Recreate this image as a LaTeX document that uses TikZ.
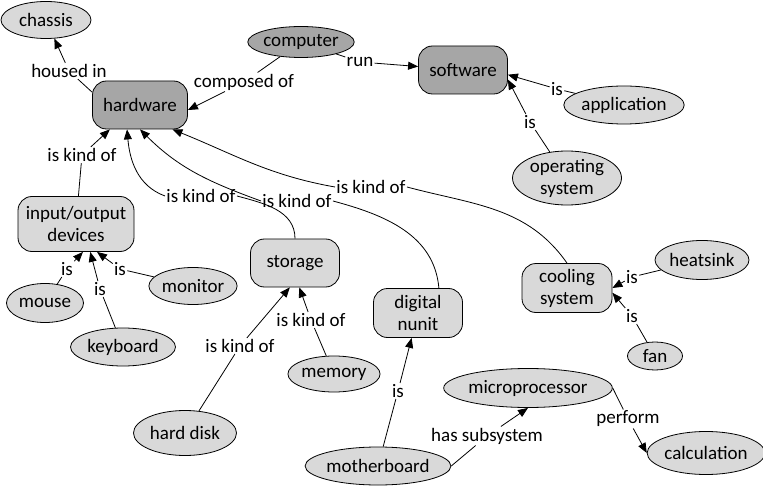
\documentclass[tikz,border=0pt]{standalone}
\usepackage{fontspec}
\setmainfont{Carlito}
\usepackage{tikz}
\usetikzlibrary{shapes.geometric,arrows.meta}
\definecolor{darkfill}{HTML}{A6A6A6}
\definecolor{lightfill}{HTML}{D9D9D9}

\begin{document}
\begin{tikzpicture}[x=1pt, y=1pt, font=\fontsize{19}{22}\selectfont, line width=0.8pt,
        oval/.style={shape=ellipse, draw, fill=lightfill, inner sep=0pt, align=center},
        box/.style={shape=rectangle, rounded corners=14pt, draw, fill=lightfill, inner sep=0pt, align=center},
        lab/.style={inner sep=1pt},
        arr/.style={-{Triangle[length=10pt,width=8pt]}}]
        \useasboundingbox (0,0) rectangle (763,-489);
        % concepts
        \node[oval, minimum width=90pt, minimum height=37pt] (chassis) at (46, -20) {chassis};
        \node[oval, fill=darkfill, minimum width=103pt, minimum height=31pt] (computer) at (301, -42) {computer};
        \node[box, fill=darkfill, minimum width=95pt, minimum height=48pt] (hardware) at (140, -105) {hardware};
        \node[box, fill=darkfill, minimum width=89pt, minimum height=48pt] (software) at (463, -70) {software};
        \node[oval, minimum width=120pt, minimum height=38pt] (application) at (624, -105) {application};
        \node[oval, minimum width=109pt, minimum height=53pt] (opsys) at (567, -178) {operating\\system};
        \node[box, minimum width=116pt, minimum height=55pt] (iodev) at (76, -224) {input/output\\devices};
        \node[box, minimum width=89pt, minimum height=48pt] (storage) at (295, -263) {storage};
        \node[oval, minimum width=77pt, minimum height=39pt] (mouse) at (45, -303) {mouse};
        \node[oval, minimum width=87pt, minimum height=37pt] (monitor) at (193, -286) {monitor};
        \node[oval, minimum width=105pt, minimum height=38pt] (keyboard) at (123, -347) {keyboard};
        \node[oval, minimum width=92pt, minimum height=36pt] (memory) at (334, -374) {memory};
        \node[oval, minimum width=103pt, minimum height=45pt] (harddisk) at (185, -433) {hard disk};
        \node[box, minimum width=89pt, minimum height=49pt] (digital) at (418, -313) {digital\\nunit};
        \node[box, minimum width=90pt, minimum height=49pt] (cooling) at (567, -288) {cooling\\system};
        \node[oval, minimum width=94pt, minimum height=39pt] (heatsink) at (702, -260) {heatsink};
        \node[oval, minimum width=55pt, minimum height=28pt] (fan) at (655, -356) {fan};
        \node[oval, minimum width=159pt, minimum height=39pt] (micro) at (528, -388) {microprocessor};
        \node[oval, minimum width=113pt, minimum height=43pt] (calc) at (706, -453) {calculation};
        \node[oval, minimum width=133pt, minimum height=38pt] (mobo) at (378, -466) {motherboard};
        % linking phrases
        \node[lab] (lhoused) at (69, -71) {housed in};
        \node[lab] (lcomposed) at (244, -82) {composed of};
        \node[lab] (lrun) at (360, -62) {run};
        \node[lab] (lapp) at (557, -89) {is};
        \node[lab] (los) at (530, -122) {is};
        \node[lab] (lio) at (82, -155) {is kind of};
        \node[lab] (lstor) at (201, -196) {is kind of};
        \node[lab] (ldig) at (297, -201) {is kind of};
        \node[lab] (lcool) at (371, -187) {is kind of};
        \node[lab] (lmouse) at (67, -269) {is};
        \node[lab] (lkey) at (100, -289) {is};
        \node[lab] (lmon) at (120, -269) {is};
        \node[lab] (lhdd) at (240, -346) {is kind of};
        \node[lab] (lmem) at (311, -320) {is kind of};
        \node[lab] (lmobo) at (398, -391) {is};
        \node[lab] (lsub) at (487, -436) {has subsystem};
        \node[lab] (lperf) at (628, -419) {perform};
        \node[lab] (lheat) at (632, -277) {is};
        \node[lab] (lfan) at (632, -316) {is};
        % links
        \draw (hardware.165) -- (lhoused);
        \draw[arr] (lhoused) -- (chassis);
        \draw (computer) -- (lcomposed);
        \draw[arr] (lcomposed) -- (hardware.-6);
        \draw (computer) -- (lrun);
        \draw[arr] (lrun) -- (software);
        \draw (application) -- (lapp);
        \draw[arr] (lapp) -- (software.-6);
        \draw (opsys) -- (los);
        \draw[arr] (los) -- (software.-12);
        \draw (iodev) -- (lio);
        \draw[arr] (lio) -- (hardware.-141);
        \draw (storage.north) to[out=90, in=-15] (lstor.east);
        \draw[arr] (lstor.west) to[out=160, in=-85] (hardware.-118);
        \draw (digital.50) to[out=95, in=-15] (ldig.east);
        \draw[arr] (ldig.west) to[out=160, in=-45] (hardware.-90);
        \draw (cooling.north) to[out=125, in=-15] (lcool.east);
        \draw[arr] (lcool.west) to[out=170, in=-22] (hardware.-37);
        \draw (mouse) -- (lmouse);
        \draw[arr] (lmouse) -- (iodev.-76);
        \draw (keyboard) -- (lkey);
        \draw[arr] (lkey) -- (iodev.-63);
        \draw (monitor) -- (lmon);
        \draw[arr] (lmon) -- (iodev.-53);
        \draw (harddisk) -- (lhdd);
        \draw[arr] (lhdd) -- (storage.-102);
        \draw (memory) -- (lmem);
        \draw[arr] (lmem) -- (storage.-80);
        \draw (mobo) -- (lmobo);
        \draw[arr] (lmobo) -- (digital);
        \draw (mobo.east) -- (lsub);
        \draw[arr] (lsub) -- (micro.south);
        \draw (micro.east) -- (lperf);
        \draw[arr] (lperf) -- (calc.west);
        \draw (heatsink) -- (lheat);
        \draw[arr] (lheat) -- (cooling.east);
        \draw (fan) -- (lfan);
        \draw[arr] (lfan) -- (cooling.-6);
    \end{tikzpicture}
\end{document}
